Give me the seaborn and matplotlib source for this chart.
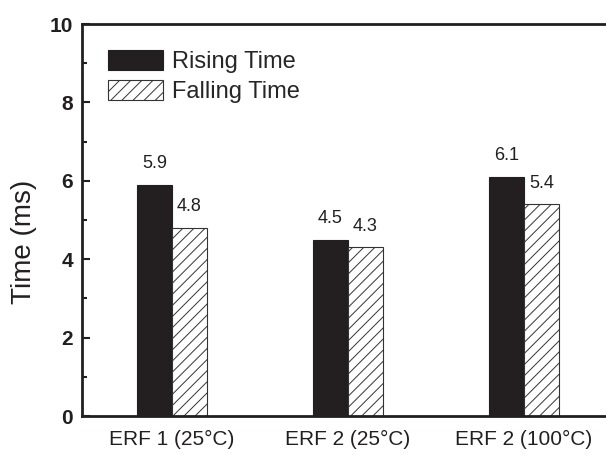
import matplotlib
matplotlib.use("Agg")
import matplotlib.pyplot as plt
import seaborn as sns
import pandas as pd
from matplotlib.ticker import MultipleLocator
from matplotlib.patches import Patch

categories = ["ERF 1 (25°C)", "ERF 2 (25°C)", "ERF 2 (100°C)"]
series = ["Rising Time", "Falling Time"]
rising = [5.9, 4.5, 6.1]
falling = [4.8, 4.3, 5.4]
y_ticks = [0, 2, 4, 6, 8, 10]

df = pd.DataFrame({
    "cat": categories * 2,
    "series": [series[0]] * 3 + [series[1]] * 3,
    "val": rising + falling,
})

sns.set_style("white")
plt.rcParams['font.family'] = ['Liberation Sans', 'DejaVu Sans']
plt.rcParams['hatch.color'] = '#444444'
plt.rcParams['hatch.linewidth'] = 0.7

W, H = 606, 457
fig = plt.figure(figsize=(W / 100, H / 100), dpi=100)
ax = fig.add_axes([82 / W, (H - 416) / H, (W - 82) / W, 392 / H])

sns.barplot(data=df, x="cat", y="val", hue="series", order=categories,
            hue_order=series, palette=["#231f20", "white"], width=0.4,
            gap=0, saturation=1, ax=ax, legend=False)

dark = "#231f20"
n = len(categories)
for i, p in enumerate(ax.patches[:2 * n]):
    if i < n:
        p.set_facecolor(dark)
        p.set_edgecolor(dark)
        p.set_linewidth(0.8)
    else:
        p.set_facecolor("white")
        p.set_edgecolor("#333333")
        p.set_linewidth(0.8)
        p.set_hatch("///")

for p in ax.patches[:2 * n]:
    h = p.get_height()
    ax.annotate(f"{h:.1f}", (p.get_x() + p.get_width() / 2, h),
                xytext=(0, 9), textcoords="offset points",
                ha="center", va="bottom", fontsize=13, color="#231f20")

ax.set_ylim(0, 10)
ax.set_xlim(-0.511, (W - 82) / 176 - 0.511)
ax.set_yticks(y_ticks)
ax.set_yticklabels([str(t) for t in y_ticks], fontsize=15, fontweight="bold")
ax.yaxis.set_minor_locator(MultipleLocator(1))
ax.tick_params(axis="y", which="major", direction="in", length=6, width=1.5,
               pad=6.5, left=True, color="#231f20", labelcolor="#231f20")
ax.tick_params(axis="y", which="minor", direction="in", length=3.5, width=1.5,
               left=True, color="#231f20")
ax.tick_params(axis="x", length=0, pad=10, labelsize=15, labelcolor="#231f20")
ax.set_xlabel("")
ax.set_ylabel("Time (ms)", fontsize=20, color="#231f20")
ax.yaxis.set_label_coords(-0.085, 0.444)

for s in ["left", "bottom", "top"]:
    ax.spines[s].set_visible(True)
    ax.spines[s].set_linewidth(2)
    ax.spines[s].set_color("#231f20")
ax.spines["right"].set_visible(False)

handles = [Patch(facecolor=dark, edgecolor=dark, linewidth=0.8),
           Patch(facecolor="white", edgecolor="#333333", hatch="///", linewidth=0.8)]
ax.legend(handles, series, loc="upper left", bbox_to_anchor=(0.0496, 0.934),
          frameon=False, fontsize=17, handlelength=2.33, handleheight=0.93,
          handletextpad=0.38, labelspacing=0.3, borderaxespad=0, borderpad=0)

fig.savefig("out.png", dpi=100)
